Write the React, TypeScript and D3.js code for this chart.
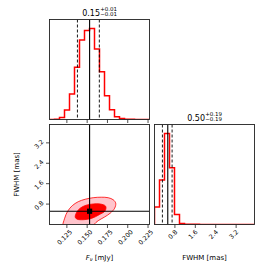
import React from "react";
import * as d3 from "d3";

const fnuRange: [number, number] = [0.1036, 0.2268];
const fwhmRange: [number, number] = [0, 3.92];
const fnuCounts = [0, 1, 6, 28, 76, 156, 237, 265, 271, 210, 142, 71, 29, 8, 3, 1, 1, 0, 0, 0];
const fwhmCounts = [52, 133, 271, 169, 30, 3, 1, 1, 1, 0, 0, 0, 0, 0, 0, 0, 0, 0, 0, 0];
const fnuTicks = [0.125, 0.15, 0.175, 0.2, 0.225];
const fwhmTicks = [0.8, 1.6, 2.4, 3.2];
const fnuTruth = 0.153;
const fwhmTruth = 0.52;
const fnuQuantiles = [0.138, 0.165];
const fwhmQuantiles = [0.31, 0.69];
const fnuTitle = { main: "0.15", plus: "+0.01", minus: "\u22120.01" };
const fwhmTitle = { main: "0.50", plus: "+0.19", minus: "\u22120.19" };

// 2D credible contours (F_nu, FWHM)
const outerContour: [number, number][] = [
  [0.1205, -0.12], [0.1223, 0.247], [0.126, 0.52], [0.1316, 0.737], [0.139, 0.894],
  [0.1476, 0.99], [0.1574, 1.05], [0.1673, 1.07], [0.1759, 1.05], [0.1821, 0.97],
  [0.1852, 0.835], [0.1839, 0.64], [0.1784, 0.443], [0.171, 0.286], [0.1636, 0.149],
  [0.1587, 0.01], [0.1562, -0.12], [0.14, -0.2]
];
const innerContour: [number, number][] = [
  [0.1353, 0.286], [0.1371, 0.482], [0.1414, 0.639], [0.1488, 0.757], [0.1574, 0.804],
  [0.1661, 0.804], [0.1728, 0.717], [0.1722, 0.541], [0.1648, 0.384], [0.155, 0.235],
  [0.1451, 0.188], [0.1377, 0.208]
];

const FONT = "DejaVu Sans, sans-serif";
const L = 49.5, T = 19.5, S = 100, G = 5;
const TICK = 3.5;
const RED = "#ff0000";

function stepPath(counts: number[], range: [number, number], xs: any, ys: any) {
  const n = counts.length;
  const w = (range[1] - range[0]) / n;
  const pts: [number, number][] = [[range[0], 0]];
  counts.forEach((c, i) => {
    pts.push([range[0] + i * w, c]);
    pts.push([range[0] + (i + 1) * w, c]);
  });
  pts.push([range[1], 0]);
  return d3.line<[number, number]>().x(d => xs(d[0])).y(d => ys(d[1]))(pts) || "";
}

function Title({ cx, baseline, t }: { cx: number; baseline: number; t: { main: string; plus: string; minus: string } }) {
  const fs = 8, ss = 5.5;
  const mainW = (t.main.length - 1) * 0.636 * fs + 0.318 * fs;
  const scriptW = (0.838 + 0.636 * (t.plus.length - 2) + 0.318) * ss;
  const x0 = cx - (mainW + scriptW) / 2;
  return (
    <g fontFamily={FONT} fill="#000">
      <text x={x0} y={baseline} fontSize={fs}>{t.main}</text>
      <text x={x0 + mainW + 0.3} y={baseline - 4.6} fontSize={ss}>{t.plus}</text>
      <text x={x0 + mainW + 0.3} y={baseline + 0.6} fontSize={ss}>{t.minus}</text>
    </g>
  );
}

export default function App() {
  const c0 = L, c1 = L + S + G, r0 = T, r1 = T + S + G;
  const xF = d3.scaleLinear().domain(fnuRange).range([c0, c0 + S]);
  const xW = d3.scaleLinear().domain(fwhmRange).range([c1, c1 + S]);
  const yW = d3.scaleLinear().domain(fwhmRange).range([r1 + S, r1]);
  const yHF = d3.scaleLinear().domain([0, 1.1 * (d3.max(fnuCounts) as number)]).range([r0 + S, r0]);
  const yHW = d3.scaleLinear().domain([0, 1.1 * (d3.max(fwhmCounts) as number)]).range([r1 + S, r1]);
  const fmtF = d3.format(".3f");
  const fmtW = d3.format(".1f");
  const tickFs = 6.3;
  const labelBox = (s: string) => {
    const digits = s.replace(/[^0-9]/g, "").length;
    const dots = s.length - digits;
    const w = (digits * 0.636 + dots * 0.318) * tickFs;
    return (w + tickFs * 0.95) * 0.7071;
  };
  const closedLine = d3.line<[number, number]>().x(d => xF(d[0])).y(d => yW(d[1])).curve(d3.curveCatmullRomClosed.alpha(0.5));

  const frame = (x: number, y: number) => (
    <rect x={x} y={y} width={S} height={S} fill="none" stroke="#222" strokeWidth={0.9} />
  );

  const xTicks = (ticks: number[], scale: any, y: number, fmt: any, withLabels: boolean, key: string) => (
    <g key={key}>
      {ticks.map(t => (
        <line key={t} x1={scale(t)} x2={scale(t)} y1={y} y2={y + TICK} stroke="#222" strokeWidth={0.8} />
      ))}
      {withLabels && ticks.map(t => {
        const s = fmt(t);
        const b = labelBox(s);
        const cx = scale(t) - 2.5, cy = y + TICK + 0.5 + b / 2;
        return (
          <text key={"l" + t} x={cx} y={cy} fontSize={tickFs} fontFamily={FONT} textAnchor="middle"
            dominantBaseline="central" transform={`rotate(-45 ${cx} ${cy})`} fill="#000">{s}</text>
        );
      })}
    </g>
  );

  return (
    <svg width={274} height={274} style={{ position: "absolute", left: 0, top: 0, background: "#fff" }}>
      <defs>
        <clipPath id="clipTL"><rect x={c0} y={r0} width={S} height={S} /></clipPath>
        <clipPath id="clipBL"><rect x={c0} y={r1} width={S} height={S} /></clipPath>
        <clipPath id="clipBR"><rect x={c1} y={r1} width={S} height={S} /></clipPath>
      </defs>
      <rect x={0} y={0} width={274} height={274} fill="#fff" />

      {/* Top-left histogram: F_nu */}
      <g clipPath="url(#clipTL)">
        <path d={stepPath(fnuCounts, fnuRange, xF, yHF)} fill="none" stroke={RED} strokeWidth={1.5} />
        {fnuQuantiles.map(q => (
          <line key={q} x1={xF(q)} x2={xF(q)} y1={r0} y2={r0 + S} stroke="#000" strokeWidth={0.9} strokeDasharray="3,2" />
        ))}
        <line x1={xF(fnuTruth)} x2={xF(fnuTruth)} y1={r0} y2={r0 + S} stroke="#000" strokeWidth={1.1} />
      </g>
      {frame(c0, r0)}
      {xTicks(fnuTicks, xF, r0 + S, fmtF, false, "tl")}
      <Title cx={c0 + S / 2} baseline={r0 - 4} t={fnuTitle} />

      {/* Bottom-left 2D contours */}
      <g clipPath="url(#clipBL)">
        <path d={closedLine(outerContour) || ""} fill="#ffc4cc" stroke={RED} strokeWidth={0.8} />
        <path d={closedLine(innerContour) || ""} fill={RED} stroke={RED} strokeWidth={0.8} />
        <line x1={xF(fnuTruth)} x2={xF(fnuTruth)} y1={r1} y2={r1 + S} stroke="#000" strokeWidth={1.1} />
        <line x1={c0} x2={c0 + S} y1={yW(fwhmTruth)} y2={yW(fwhmTruth)} stroke="#000" strokeWidth={1.1} />
        <rect x={xF(fnuTruth) - 2.6} y={yW(fwhmTruth) - 2.6} width={5.2} height={5.2} fill="#000" />
      </g>
      {frame(c0, r1)}
      {xTicks(fnuTicks, xF, r1 + S, fmtF, true, "bl")}
      {fwhmTicks.map(t => {
        const s = fmtW(t);
        const b = labelBox(s);
        const cx = c0 - TICK - 1.5 - b / 2, cy = yW(t) + 1;
        return (
          <g key={"y" + t}>
            <line x1={c0 - TICK} x2={c0} y1={yW(t)} y2={yW(t)} stroke="#222" strokeWidth={0.8} />
            <text x={cx} y={cy} fontSize={tickFs} fontFamily={FONT} textAnchor="middle" dominantBaseline="central"
              transform={`rotate(-45 ${cx} ${cy})`} fill="#000">{s}</text>
          </g>
        );
      })}

      {/* Bottom-right histogram: FWHM */}
      <g clipPath="url(#clipBR)">
        <path d={stepPath(fwhmCounts, fwhmRange, xW, yHW)} fill="none" stroke={RED} strokeWidth={1.5} />
        {fwhmQuantiles.map(q => (
          <line key={q} x1={xW(q)} x2={xW(q)} y1={r1} y2={r1 + S} stroke="#000" strokeWidth={0.9} strokeDasharray="3,2" />
        ))}
        <line x1={xW(fwhmTruth)} x2={xW(fwhmTruth)} y1={r1} y2={r1 + S} stroke="#000" strokeWidth={1.1} />
      </g>
      {frame(c1, r1)}
      {xTicks(fwhmTicks, xW, r1 + S, fmtW, true, "br")}
      <Title cx={c1 + S / 2} baseline={r1 - 4} t={fwhmTitle} />

      {/* Axis labels */}
      <text x={c0 + S / 2} y={259.5} fontSize={7} fontFamily={FONT} textAnchor="middle" fill="#000">
        <tspan fontStyle="italic">F</tspan>
        <tspan fontStyle="italic" fontSize={5} dy={1.5}>{"\u03bd"}</tspan>
        <tspan dy={-1.5}>{" [mJy]"}</tspan>
      </text>
      <text x={c1 + S / 2} y={259.5} fontSize={7} fontFamily={FONT} textAnchor="middle" fill="#000">FWHM [mas]</text>
      <text x={19} y={r1 + S / 2} fontSize={7} fontFamily={FONT} textAnchor="middle" fill="#000"
        transform={`rotate(-90 19 ${r1 + S / 2})`}>FWHM [mas]</text>
    </svg>
  );
}
